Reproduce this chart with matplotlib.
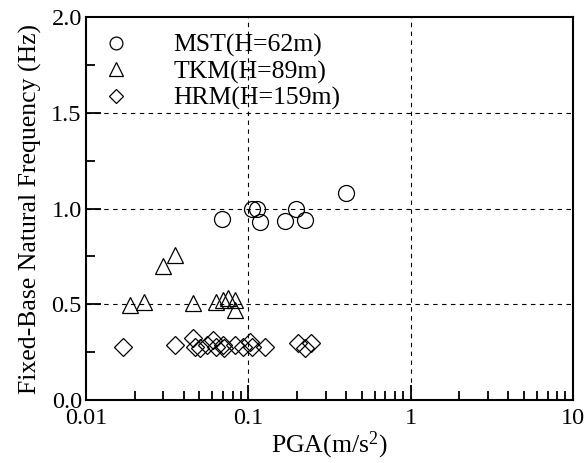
import matplotlib
matplotlib.use("Agg")
import matplotlib.pyplot as plt

plt.rcParams['font.family'] = ['Liberation Serif', 'DejaVu Serif']
plt.rcParams['mathtext.fontset'] = 'custom'
plt.rcParams['mathtext.rm'] = 'Liberation Serif'
plt.rcParams['mathtext.it'] = 'Liberation Serif:italic'

mst_pga = [0.069, 0.106, 0.113, 0.118, 0.168, 0.198, 0.225, 0.400]
mst_f = [0.944, 1.00, 1.00, 0.928, 0.933, 1.00, 0.940, 1.080]

tkm_pga = [0.0297, 0.0353, 0.0187, 0.0229, 0.0454, 0.063, 0.070, 0.075, 0.0826, 0.0826]
tkm_f = [0.70, 0.757, 0.496, 0.513, 0.505, 0.513, 0.522, 0.531, 0.522, 0.47]

hrm_pga = [0.0168, 0.0353, 0.0457, 0.0469, 0.0503, 0.0553, 0.0607, 0.0636, 0.0698,
           0.0713, 0.0827, 0.0929, 0.1019, 0.105, 0.126, 0.2024, 0.222, 0.244]
hrm_f = [0.278, 0.287, 0.322, 0.278, 0.270, 0.287, 0.313, 0.278, 0.287,
         0.270, 0.287, 0.278, 0.304, 0.278, 0.278, 0.296, 0.270, 0.296]

labels = ['MST(H=62m)', 'TKM(H=89m)', 'HRM(H=159m)']

fig = plt.figure(figsize=(5.87, 4.63), dpi=100)
ax = fig.add_axes([0.1465, 0.136, 0.8295, 0.827])

ax.plot(mst_pga, mst_f, 'o', ms=11.5, mfc='none', mec='black', mew=0.9, label=labels[0], linestyle='none')
ax.plot(tkm_pga, tkm_f, '^', ms=12, mfc='none', mec='black', mew=0.9, label=labels[1], linestyle='none')
ax.plot(hrm_pga, hrm_f, 'D', ms=9, mfc='none', mec='black', mew=0.9, label=labels[2], linestyle='none')

ax.set_xscale('log')
ax.set_xlim(0.01, 10)
ax.set_ylim(0, 2.0)
ax.set_yticks([0.0, 0.5, 1.0, 1.5, 2.0])
ax.set_yticklabels(['0.0', '0.5', '1.0', '1.5', '2.0'])
ax.set_yticks([0.25, 0.75, 1.25, 1.75], minor=True)
ax.set_xticks([0.01, 0.1, 1, 10])
ax.set_xticklabels(['0.01', '0.1', '1', '10'])

for v in [0.1, 1]:
    ax.axvline(v, color='black', ls=(0, (4, 4)), lw=0.8, zorder=0)
for v in [0.5, 1.0, 1.5]:
    ax.axhline(v, color='black', ls=(0, (4, 4)), lw=0.8, zorder=0)

ax.tick_params(which='both', direction='in', top=False, right=False, labelsize=17.5, width=1.3)
ax.tick_params(which='major', length=10.5)
ax.tick_params(which='minor', length=6.5)
ax.tick_params(axis='x', pad=6)
ax.tick_params(axis='y', pad=3)
for s in ax.spines.values():
    s.set_linewidth(1.5)

ax.set_xlabel('PGA(m/s$^{2}$)', fontsize=18.5, labelpad=0)
ax.set_ylabel('Fixed-Base Natural Frequency (Hz)', fontsize=18.5, labelpad=7)

ax.legend(loc='upper left', frameon=False, fontsize=18.5, handletextpad=1.75,
          labelspacing=0.12, borderaxespad=0.25, handlelength=1.0, markerscale=0.8,
          bbox_to_anchor=(0.0, 1.0))

fig.savefig('out.png', dpi=100)
